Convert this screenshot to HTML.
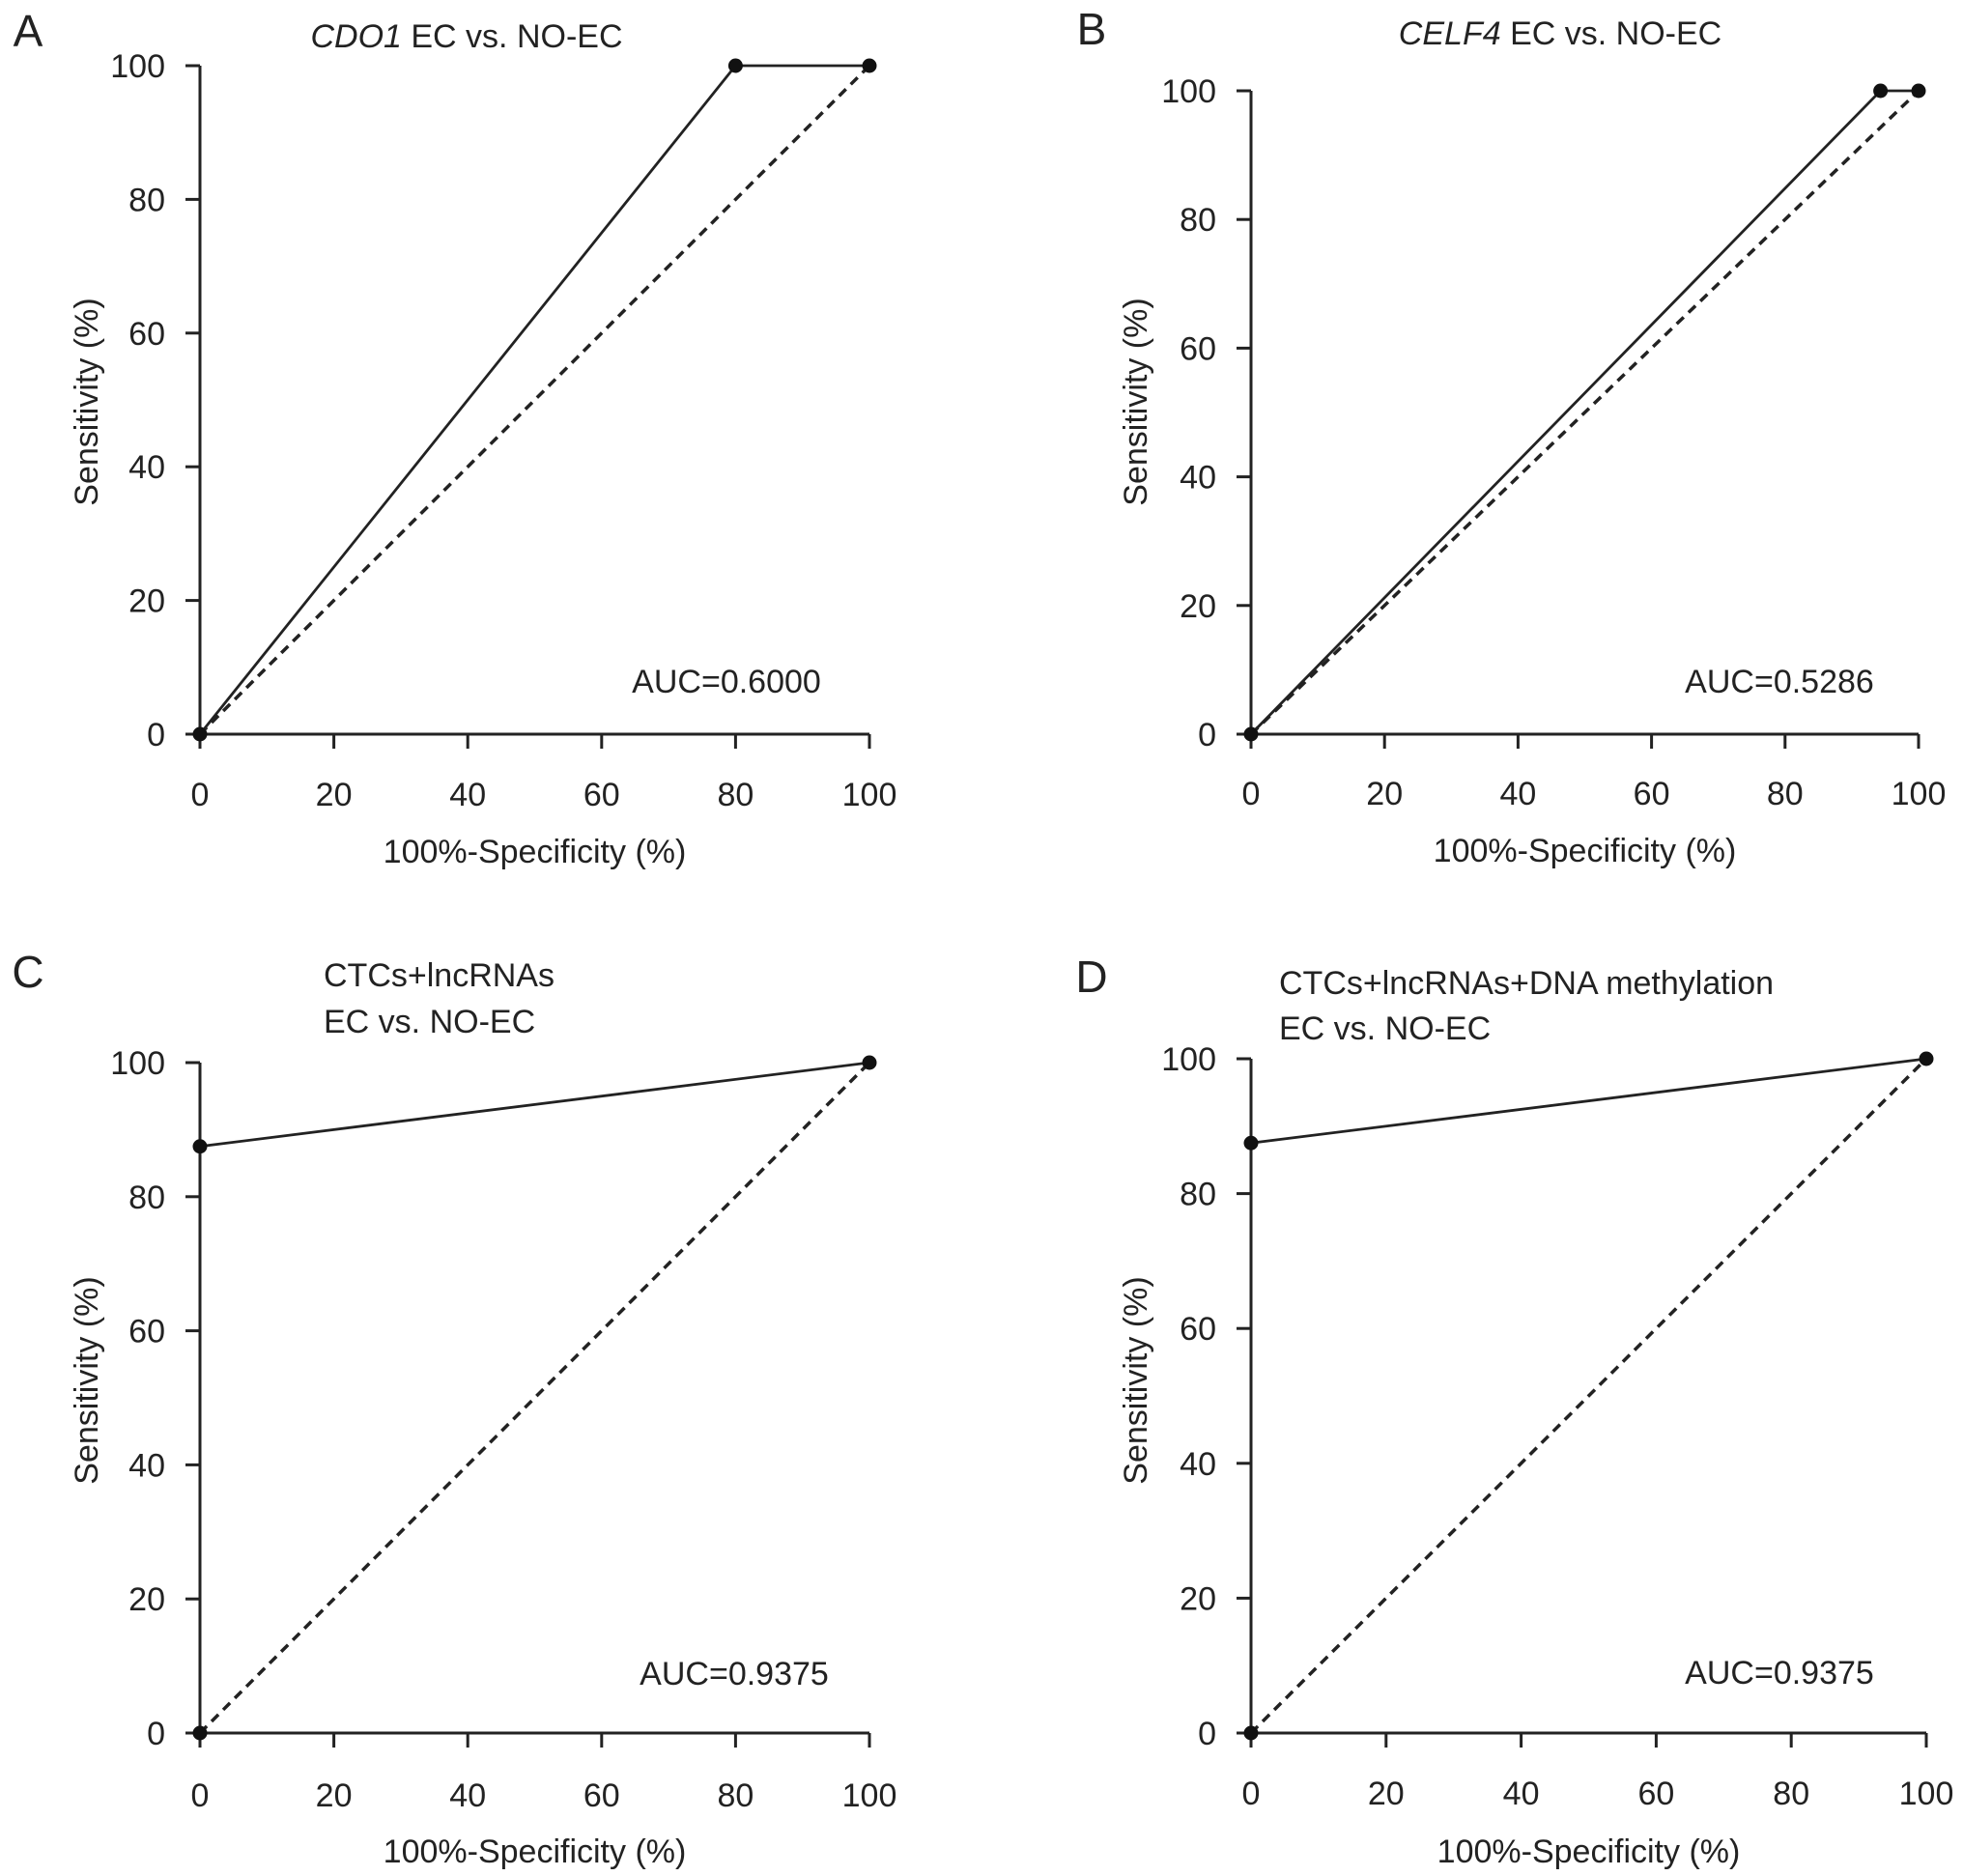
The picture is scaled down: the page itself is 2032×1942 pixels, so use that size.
<!DOCTYPE html>
<html><head><meta charset="utf-8"><style>
html,body{margin:0;padding:0;background:#fff}
svg{display:block}
text{font-family:"Liberation Sans",Arial,sans-serif;fill:#222}
</style></head><body>
<svg id="fig" width="2032" height="1942" viewBox="0 0 2032 1942" xmlns="http://www.w3.org/2000/svg"></svg>
<script>
const tickValues = [0, 20, 40, 60, 80, 100];
const rocA_x = [0, 80, 100];
const rocA_y = [0, 100, 100];
const rocB_x = [0, 94.3, 100];
const rocB_y = [0, 100, 100];
const rocC_x = [0, 0, 100];
const rocC_y = [0, 87.5, 100];
const rocD_x = [0, 0, 100];
const rocD_y = [0, 87.5, 100];
const aucLabels = ["AUC=0.6000", "AUC=0.5286", "AUC=0.9375", "AUC=0.9375"];

const NS = "http://www.w3.org/2000/svg";
const svg = document.getElementById("fig");
function mk(tag, attrs, parent, text) {
  const e = document.createElementNS(NS, tag);
  for (const k in attrs) e.setAttribute(k, attrs[k]);
  if (text !== undefined) e.textContent = text;
  (parent || svg).appendChild(e);
  return e;
}
const panels = [
  {id:"a", letter:"A", lx:29, ly:48, x0:207, x1:900, y0:760, y1:68, xs:rocA_x, ys:rocA_y, auc:aucLabels[0], ax:752, ay:717,
   title:[{t:"CDO1", it:true},{t:" EC vs. NO-EC"}], tx:483, ty:49, anchor:"middle", xtY:834, xtitleY:893, ytX:101, ytY:416},
  {id:"b", letter:"B", lx:1130, ly:46, x0:1295, x1:1986, y0:760, y1:94, xs:rocB_x, ys:rocB_y, auc:aucLabels[1], ax:1842, ay:717,
   title:[{t:"CELF4", it:true},{t:" EC vs. NO-EC"}], tx:1615, ty:46, anchor:"middle", xtY:833, xtitleY:892, ytX:1187, ytY:416},
  {id:"c", letter:"C", lx:29, ly:1022, x0:207, x1:900, y0:1794, y1:1100, xs:rocC_x, ys:rocC_y, auc:aucLabels[2], ax:760, ay:1744,
   title2:["CTCs+lncRNAs","EC vs. NO-EC"], tx:335, ty:1021, ty2:1069, xtY:1870, xtitleY:1928, ytX:101, ytY:1429},
  {id:"d", letter:"D", lx:1130, ly:1027, x0:1295, x1:1994, y0:1794, y1:1096, xs:rocD_x, ys:rocD_y, auc:aucLabels[3], ax:1842, ay:1743,
   title2:["CTCs+lncRNAs+DNA methylation","EC vs. NO-EC"], tx:1324, ty:1029, ty2:1076, xtY:1868, xtitleY:1928, ytX:1187, ytY:1429}
];
panels.forEach(p => {
  const g = mk("g", {});
  
  
  const sx = v => p.x0 + (p.x1 - p.x0) * v / 100;
  const sy = v => p.y0 + (p.y1 - p.y0) * v / 100;
  const L = mk("text", {x:p.lx, y:p.ly, "font-size":46, "text-anchor":"middle"}, g, p.letter);
  
  
  if (p.title) {
    const t = mk("text", {x:p.tx, y:p.ty, "font-size":34, "text-anchor":"middle"}, g);
    
    
    p.title.forEach(s => { mk("tspan", s.it ? {"font-style":"italic"} : {}, t, s.t); });
  } else {
    const t1 = mk("text", {x:p.tx, y:p.ty, "font-size":34}, g, p.title2[0]);
    
    
    const t2 = mk("text", {x:p.tx, y:p.ty2, "font-size":34}, g, p.title2[1]);
    
    
  }
  const ya = mk("line", {x1:sx(0), y1:sy(0), x2:sx(0), y2:sy(100), stroke:"#222", "stroke-width":3}, g);
  
  
  const xa = mk("line", {x1:sx(0), y1:sy(0), x2:sx(100), y2:sy(0), stroke:"#222", "stroke-width":3}, g);
  
  
  tickValues.forEach(v => {
    const a = mk("line", {x1:sx(0)-15, y1:sy(v), x2:sx(0), y2:sy(v), stroke:"#222", "stroke-width":3}, g);
    
    
    const at = mk("text", {x:sx(0)-36, y:sy(v)+12, "font-size":34, "text-anchor":"end"}, g, String(v));
    
    
    const b = mk("line", {x1:sx(v), y1:sy(0), x2:sx(v), y2:sy(0)+15, stroke:"#222", "stroke-width":3}, g);
    
    
    const bt = mk("text", {x:sx(v), y:p.xtY, "font-size":34, "text-anchor":"middle"}, g, String(v));
    
    
  });
  const xt = mk("text", {x:(sx(0)+sx(100))/2, y:p.xtitleY, "font-size":34, "text-anchor":"middle"}, g, "100%-Specificity (%)");
  
  
  const yt = mk("text", {x:p.ytX, y:p.ytY, "font-size":34, "text-anchor":"middle", transform:`rotate(-90 ${p.ytX} ${p.ytY})`}, g, "Sensitivity (%)");
  
  
  const ref = mk("line", {x1:sx(0), y1:sy(0), x2:sx(100), y2:sy(100), stroke:"#222", "stroke-width":3.5, "stroke-dasharray":"10 7"}, g);
  
  
  const pts = p.xs.map((x, i) => sx(x) + "," + sy(p.ys[i])).join(" ");
  const curve = mk("polyline", {points:pts, fill:"none", stroke:"#222", "stroke-width":2.8}, g);
  
  
  p.xs.forEach((x, i) => {
    const c = mk("circle", {cx:sx(x), cy:sy(p.ys[i]), r:7.5, fill:"#111"}, g);
    
    
  });
  const auc = mk("text", {x:p.ax, y:p.ay, "font-size":34, "text-anchor":"middle"}, g, p.auc);
  
  
});
</script>
</body></html>
